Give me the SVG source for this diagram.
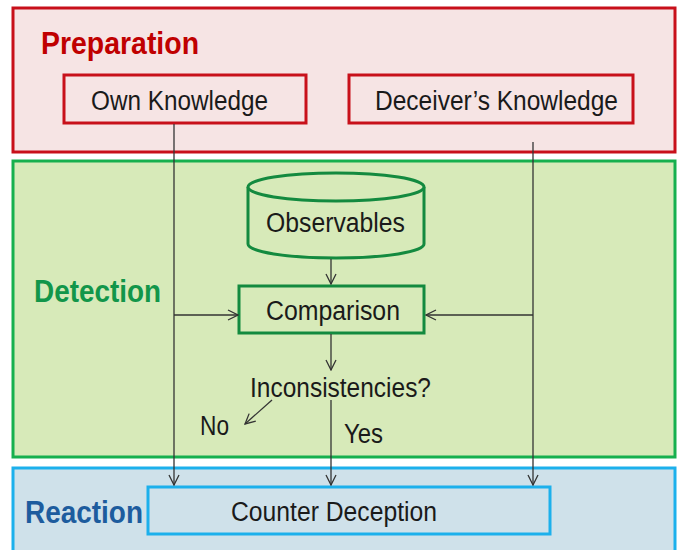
<svg xmlns="http://www.w3.org/2000/svg" width="678" height="550" viewBox="0 0 678 550">
<style>
.lbl{font-family:"Liberation Sans",Arial,sans-serif;font-size:27px;fill:#1a1a1a}
.head{font-family:"Liberation Sans",Arial,sans-serif;font-size:32px;font-weight:bold}
.conn{stroke:#333;stroke-width:1.3;fill:none}
</style>
<defs>
<marker id="arr" viewBox="0 0 12 12" refX="11" refY="6" markerWidth="12" markerHeight="12" markerUnits="userSpaceOnUse" orient="auto">
<path d="M1,1 L11,6 L1,11" fill="none" stroke="#333" stroke-width="1.3"/>
</marker>
</defs>
<rect width="678" height="550" fill="#ffffff"/>
<g id="preparation">
<rect x="13" y="8" width="662" height="144" fill="#f6e4e4" stroke="#c8101a" stroke-width="3"/>
<text x="41" y="54" class="head" fill="#c00000" textLength="158" lengthAdjust="spacingAndGlyphs">Preparation</text>
</g>
<g id="detection">
<rect x="13" y="161" width="662" height="296" fill="#d7eab9" stroke="#16b04e" stroke-width="3"/>
<text x="34" y="302" class="head" fill="#12964a" textLength="127" lengthAdjust="spacingAndGlyphs">Detection</text>
</g>
<g id="reaction">
<rect x="13" y="468" width="662" height="90" fill="#cfe1ea" stroke="#1cb0ec" stroke-width="3"/>
<text x="25" y="523" class="head" fill="#1d5c9e" textLength="118" lengthAdjust="spacingAndGlyphs">Reaction</text>
</g>
<g id="own-knowledge">
<rect x="64" y="75" width="242" height="48" fill="#f6e4e4" stroke="#c8101a" stroke-width="3"/>
<text x="91" y="110" class="lbl" textLength="177" lengthAdjust="spacingAndGlyphs">Own Knowledge</text>
</g>
<g id="deceivers-knowledge">
<rect x="349" y="75" width="284" height="48" fill="#f6e4e4" stroke="#c8101a" stroke-width="3"/>
<text x="375" y="110" class="lbl" textLength="243" lengthAdjust="spacingAndGlyphs">Deceiver’s Knowledge</text>
</g>
<g id="observables">
<path d="M248,187 L248,244 A88,14 0 0 0 424,244 L424,187" fill="#d7eab9" stroke="#138a3f" stroke-width="3"/>
<ellipse cx="336" cy="187" rx="88" ry="14" fill="#d7eab9" stroke="#138a3f" stroke-width="3"/>
<text x="266" y="232" class="lbl" textLength="139" lengthAdjust="spacingAndGlyphs">Observables</text>
</g>
<g id="comparison">
<rect x="239" y="286" width="185" height="47" fill="#d7eab9" stroke="#138a3f" stroke-width="3"/>
<text x="266" y="320" class="lbl" textLength="134" lengthAdjust="spacingAndGlyphs">Comparison</text>
</g>
<g id="inconsistencies">
<text x="250" y="397" class="lbl" textLength="181" lengthAdjust="spacingAndGlyphs">Inconsistencies?</text>
</g>
<g id="counter-deception">
<rect x="148" y="487" width="402" height="47" fill="#cfe1ea" stroke="#1cb0ec" stroke-width="3"/>
<text x="231" y="521" class="lbl" textLength="206" lengthAdjust="spacingAndGlyphs">Counter Deception</text>
</g>
<g id="connectors">
<line x1="174" y1="124" x2="174" y2="485" class="conn" marker-end="url(#arr)"/>
<line x1="533" y1="142" x2="533" y2="485" class="conn" marker-end="url(#arr)"/>
<line x1="174" y1="315" x2="238" y2="315" class="conn" marker-end="url(#arr)"/>
<line x1="533" y1="315" x2="426" y2="315" class="conn" marker-end="url(#arr)"/>
<line x1="331" y1="259" x2="331" y2="284" class="conn" marker-end="url(#arr)"/>
<line x1="331" y1="334" x2="331" y2="370" class="conn" marker-end="url(#arr)"/>
<line x1="331" y1="400" x2="331" y2="485" class="conn" marker-end="url(#arr)"/>
<line x1="272" y1="400" x2="245" y2="424" class="conn" marker-end="url(#arr)"/>
<text x="200" y="435" class="lbl" textLength="29" lengthAdjust="spacingAndGlyphs">No</text>
<text x="344" y="443" class="lbl" textLength="39" lengthAdjust="spacingAndGlyphs">Yes</text>
</g>
</svg>
